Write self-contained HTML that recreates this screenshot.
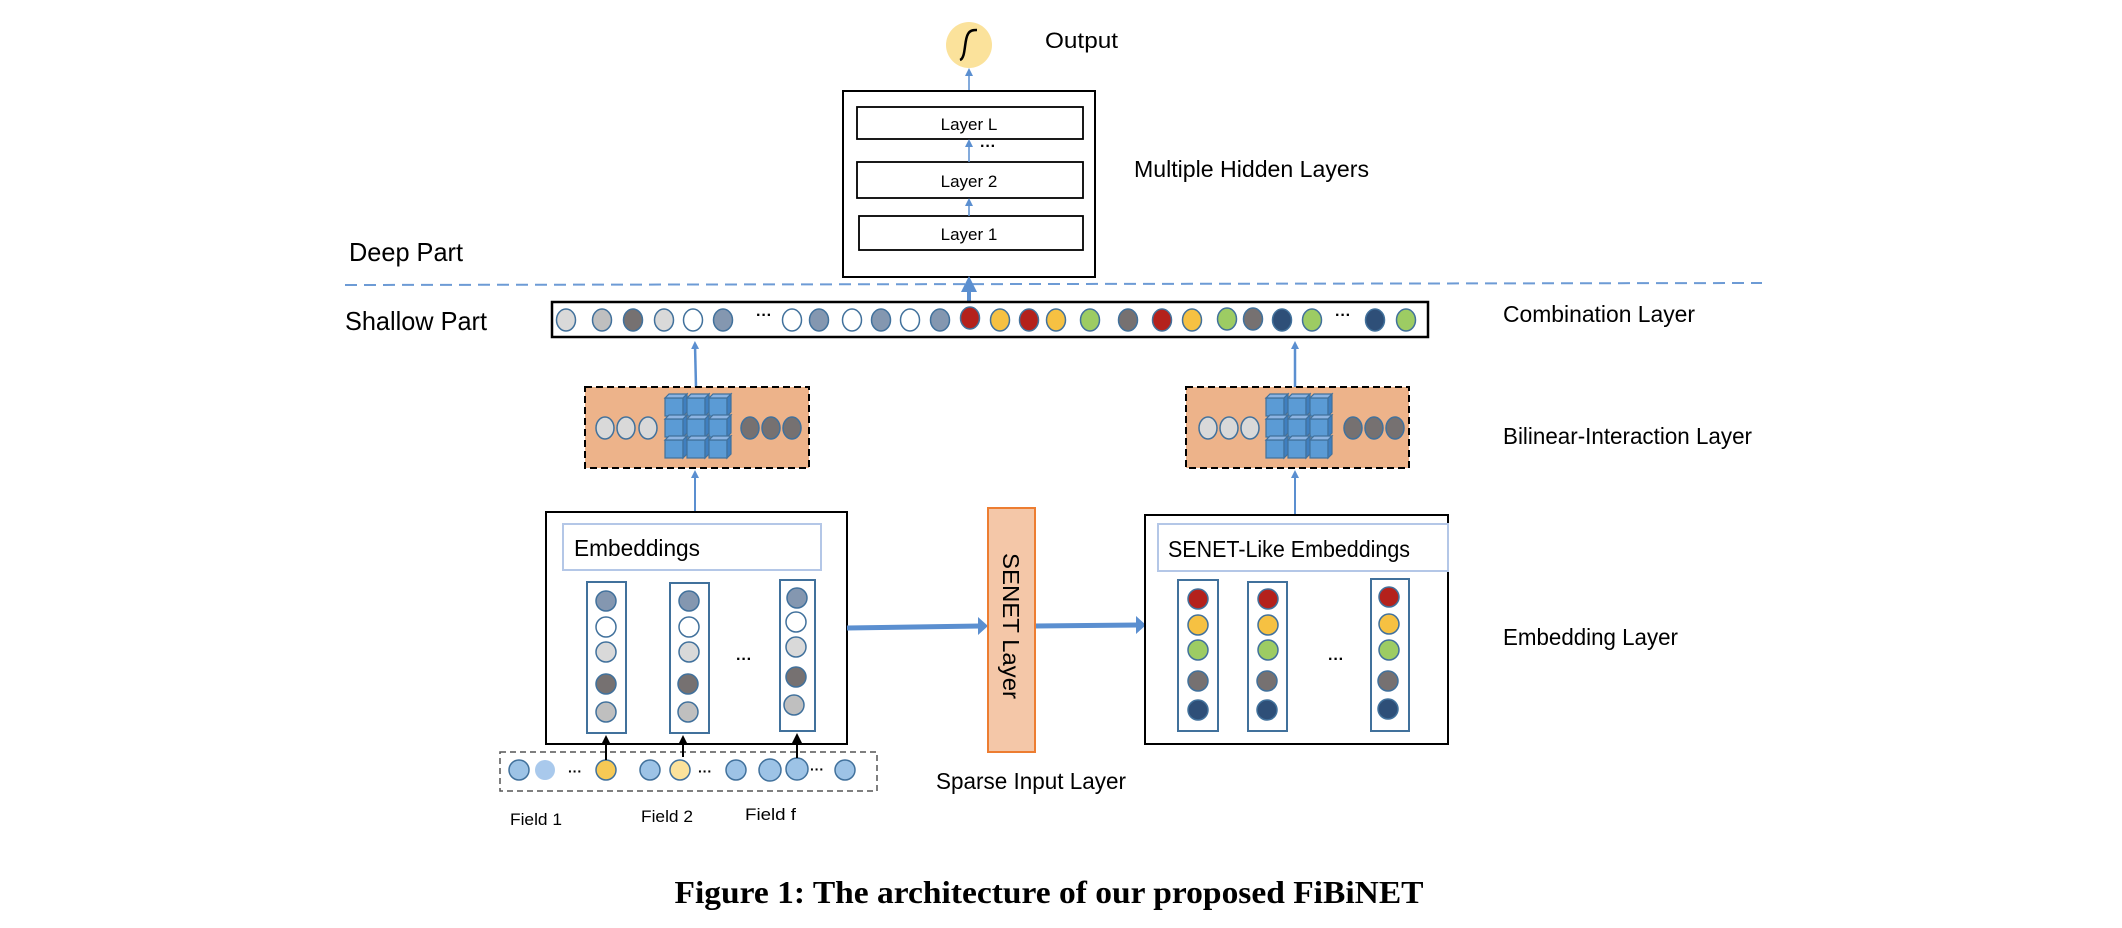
<!DOCTYPE html>
<html><head><meta charset="utf-8"><style>
html,body{margin:0;padding:0;background:#fff;}
svg{display:block;}
text{font-family:"Liberation Sans",sans-serif;fill:#000;}
</style></head><body>
<svg width="2122" height="928" viewBox="0 0 2122 928" xmlns="http://www.w3.org/2000/svg">
<defs>
<marker id="ab" markerWidth="8" markerHeight="8" refX="4" refY="4" orient="auto" markerUnits="userSpaceOnUse"><path d="M0,0 L8,4 L0,8 z" fill="#5b8fd0"/></marker>
<marker id="abig" markerWidth="16" markerHeight="16" refX="8" refY="8" orient="auto" markerUnits="userSpaceOnUse"><path d="M0,0 L16,8 L0,16 z" fill="#5b8fd0"/></marker>
<marker id="ak" markerWidth="10" markerHeight="10" refX="5" refY="5" orient="auto" markerUnits="userSpaceOnUse"><path d="M0,0 L10,5 L0,10 z" fill="#000"/></marker>
<g id="cube"><rect x="0" y="4" width="18" height="18" fill="#5b9bd5" stroke="#41719c" stroke-width="1.2"/><path d="M0,4 L4,0 L22,0 L18,4 z" fill="#8db4e2" stroke="#41719c" stroke-width="1.2"/><path d="M18,4 L22,0 L22,18 L18,22 z" fill="#3f7fc0" stroke="#41719c" stroke-width="1.2"/></g>
<g id="cubes"><use href="#cube" x="0" y="0"/><use href="#cube" x="22" y="0"/><use href="#cube" x="44" y="0"/><use href="#cube" x="0" y="21"/><use href="#cube" x="22" y="21"/><use href="#cube" x="44" y="21"/><use href="#cube" x="0" y="42"/><use href="#cube" x="22" y="42"/><use href="#cube" x="44" y="42"/></g>
</defs>

<circle cx="969" cy="45" r="23" fill="#fbe29b"/>
<path d="M960,60 C966,58 964,40 968,34 C970,30 974,30 977,30" stroke="#000" stroke-width="2.5" fill="none"/>
<text x="1045" y="48" font-size="22" textLength="73" lengthAdjust="spacingAndGlyphs">Output</text>
<line x1="969" y1="91" x2="969" y2="72" stroke="#5b8fd0" stroke-width="1.5" marker-end="url(#ab)"/>

<rect x="843" y="91" width="252" height="186" fill="#fff" stroke="#000" stroke-width="2"/>
<rect x="857" y="107" width="226" height="32" fill="#fff" stroke="#000" stroke-width="1.8"/>
<rect x="857" y="162" width="226" height="36" fill="#fff" stroke="#000" stroke-width="1.8"/>
<rect x="859" y="216" width="224" height="34" fill="#fff" stroke="#000" stroke-width="1.8"/>
<text x="969" y="130" font-size="17" text-anchor="middle">Layer L</text>
<text x="969" y="187" font-size="17" text-anchor="middle">Layer 2</text>
<text x="969" y="240" font-size="17" text-anchor="middle">Layer 1</text>
<text x="980" y="151" font-size="16" font-weight="bold">···</text>
<line x1="969" y1="162" x2="969" y2="143" stroke="#5b8fd0" stroke-width="1.5" marker-end="url(#ab)"/>
<line x1="969" y1="216" x2="969" y2="202" stroke="#5b8fd0" stroke-width="1.5" marker-end="url(#ab)"/>
<text x="1134" y="177" font-size="23" textLength="235" lengthAdjust="spacingAndGlyphs">Multiple Hidden Layers</text>

<text x="349" y="261" font-size="26" textLength="114" lengthAdjust="spacingAndGlyphs">Deep Part</text>
<line x1="345" y1="285" x2="1762" y2="283" stroke="#6d9bd5" stroke-width="2" stroke-dasharray="12,7"/>
<text x="345" y="330" font-size="26" textLength="142" lengthAdjust="spacingAndGlyphs">Shallow Part</text>

<line x1="969" y1="301" x2="969" y2="290" stroke="#5b8fd0" stroke-width="4"/>
<line x1="969" y1="292" x2="969" y2="284" stroke="#5b8fd0" stroke-width="4" marker-end="url(#abig)"/>

<rect x="552" y="302" width="876" height="35" fill="#fff" stroke="#000" stroke-width="2.5"/>
<g stroke="#41719c" stroke-width="1.5">
<ellipse cx="566" cy="320" rx="9.5" ry="11" fill="#d9d9d9"/>
<ellipse cx="602" cy="320" rx="9.5" ry="11" fill="#bfbfbf"/>
<ellipse cx="633" cy="320" rx="9.5" ry="11" fill="#767171"/>
<ellipse cx="664" cy="320" rx="9.5" ry="11" fill="#d9d9d9"/>
<ellipse cx="693" cy="320" rx="9.5" ry="11" fill="#fff"/>
<ellipse cx="723" cy="320" rx="9.5" ry="11" fill="#8497b0"/>
<ellipse cx="792" cy="320" rx="9.5" ry="11" fill="#fff"/>
<ellipse cx="819" cy="320" rx="9.5" ry="11" fill="#8497b0"/>
<ellipse cx="852" cy="320" rx="9.5" ry="11" fill="#fff"/>
<ellipse cx="881" cy="320" rx="9.5" ry="11" fill="#8497b0"/>
<ellipse cx="910" cy="320" rx="9.5" ry="11" fill="#fff"/>
<ellipse cx="940" cy="320" rx="9.5" ry="11" fill="#8497b0"/>
<ellipse cx="970" cy="318" rx="9.5" ry="11" fill="#b4211c"/>
<ellipse cx="1000" cy="320" rx="9.5" ry="11" fill="#f6c142"/>
<ellipse cx="1029" cy="320" rx="9.5" ry="11" fill="#b4211c"/>
<ellipse cx="1056" cy="320" rx="9.5" ry="11" fill="#f6c142"/>
<ellipse cx="1090" cy="320" rx="9.5" ry="11" fill="#9dcc63"/>
<ellipse cx="1128" cy="320" rx="9.5" ry="11" fill="#767171"/>
<ellipse cx="1162" cy="320" rx="9.5" ry="11" fill="#b4211c"/>
<ellipse cx="1192" cy="320" rx="9.5" ry="11" fill="#f6c142"/>
<ellipse cx="1227" cy="319" rx="9.5" ry="11" fill="#9dcc63"/>
<ellipse cx="1253" cy="319" rx="9.5" ry="11" fill="#767171"/>
<ellipse cx="1282" cy="320" rx="9.5" ry="11" fill="#2e4f78"/>
<ellipse cx="1312" cy="320" rx="9.5" ry="11" fill="#9dcc63"/>
<ellipse cx="1375" cy="320" rx="9.5" ry="11" fill="#2e4f78"/>
<ellipse cx="1406" cy="320" rx="9.5" ry="11" fill="#9dcc63"/>
</g>
<text x="756" y="320" font-size="16" font-weight="bold">···</text>
<text x="1335" y="320" font-size="16" font-weight="bold">···</text>
<text x="1503" y="322" font-size="23" textLength="192" lengthAdjust="spacingAndGlyphs">Combination Layer</text>

<line x1="696" y1="387" x2="695" y2="345" stroke="#5b8fd0" stroke-width="2.5" marker-end="url(#ab)"/>
<line x1="1295" y1="387" x2="1295" y2="345" stroke="#5b8fd0" stroke-width="2.5" marker-end="url(#ab)"/>

<rect x="585" y="387" width="224" height="81" fill="#edb38a" stroke="#000" stroke-width="2" stroke-dasharray="7,4"/>
<rect x="1186" y="387" width="223" height="81" fill="#edb38a" stroke="#000" stroke-width="2" stroke-dasharray="7,4"/>
<g stroke="#41719c" stroke-width="1.5">
<ellipse cx="605" cy="428" rx="9" ry="11" fill="#d9d9d9"/><ellipse cx="626" cy="428" rx="9" ry="11" fill="#d9d9d9"/><ellipse cx="648" cy="428" rx="9" ry="11" fill="#d9d9d9"/>
<ellipse cx="750" cy="428" rx="9" ry="11" fill="#767171"/><ellipse cx="771" cy="428" rx="9" ry="11" fill="#767171"/><ellipse cx="792" cy="428" rx="9" ry="11" fill="#767171"/>
<ellipse cx="1208" cy="428" rx="9" ry="11" fill="#d9d9d9"/><ellipse cx="1229" cy="428" rx="9" ry="11" fill="#d9d9d9"/><ellipse cx="1250" cy="428" rx="9" ry="11" fill="#d9d9d9"/>
<ellipse cx="1353" cy="428" rx="9" ry="11" fill="#767171"/><ellipse cx="1374" cy="428" rx="9" ry="11" fill="#767171"/><ellipse cx="1395" cy="428" rx="9" ry="11" fill="#767171"/>
</g>
<use href="#cubes" x="665" y="394"/>
<use href="#cubes" x="1266" y="394"/>
<text x="1503" y="444" font-size="23" textLength="249" lengthAdjust="spacingAndGlyphs">Bilinear-Interaction Layer</text>

<line x1="695" y1="511" x2="695" y2="474" stroke="#5b8fd0" stroke-width="2" marker-end="url(#ab)"/>
<line x1="1295" y1="514" x2="1295" y2="474" stroke="#5b8fd0" stroke-width="2" marker-end="url(#ab)"/>

<rect x="546" y="512" width="301" height="232" fill="#fff" stroke="#000" stroke-width="2"/>
<rect x="563" y="524" width="258" height="46" fill="#fff" stroke="#b4c7e7" stroke-width="2"/>
<text x="574" y="556" font-size="23" textLength="126" lengthAdjust="spacingAndGlyphs">Embeddings</text>
<g stroke="#41719c" stroke-width="2" fill="#fff">
<rect x="587" y="582" width="39" height="151"/><rect x="670" y="583" width="39" height="150"/><rect x="780" y="580" width="35" height="151"/>
</g>
<g stroke="#41719c" stroke-width="1.5">
<circle cx="606" cy="601" r="10" fill="#8497b0"/><circle cx="606" cy="627" r="10" fill="#fff"/><circle cx="606" cy="652" r="10" fill="#d9d9d9"/><circle cx="606" cy="684" r="10" fill="#767171"/><circle cx="606" cy="712" r="10" fill="#bfbfbf"/>
<circle cx="689" cy="601" r="10" fill="#8497b0"/><circle cx="689" cy="627" r="10" fill="#fff"/><circle cx="689" cy="652" r="10" fill="#d9d9d9"/><circle cx="688" cy="684" r="10" fill="#767171"/><circle cx="688" cy="712" r="10" fill="#bfbfbf"/>
<circle cx="797" cy="598" r="10" fill="#8497b0"/><circle cx="796" cy="622" r="10" fill="#fff"/><circle cx="796" cy="647" r="10" fill="#d9d9d9"/><circle cx="796" cy="677" r="10" fill="#767171"/><circle cx="794" cy="705" r="10" fill="#bfbfbf"/>
</g>
<text x="736" y="664" font-size="16" font-weight="bold">···</text>

<line x1="847" y1="628" x2="980" y2="626" stroke="#5b8fd0" stroke-width="5"/>
<path d="M978,617 L988,626 L978,635 z" fill="#5b8fd0"/>
<line x1="1035" y1="626" x2="1138" y2="625" stroke="#5b8fd0" stroke-width="5"/>
<path d="M1136,616 L1146,625 L1136,634 z" fill="#5b8fd0"/>

<rect x="988" y="508" width="47" height="244" fill="#f4c7a8" stroke="#ed7d31" stroke-width="2"/>
<text x="0" y="0" font-size="23" transform="translate(1003,553) rotate(90)" textLength="146" lengthAdjust="spacingAndGlyphs">SENET Layer</text>

<rect x="1145" y="515" width="303" height="229" fill="#fff" stroke="#000" stroke-width="2"/>
<rect x="1158" y="524" width="290" height="47" fill="#fff" stroke="#b4c7e7" stroke-width="2"/>
<text x="1168" y="557" font-size="23" textLength="242" lengthAdjust="spacingAndGlyphs">SENET-Like Embeddings</text>
<g stroke="#41719c" stroke-width="2" fill="#fff">
<rect x="1178" y="580" width="40" height="151"/><rect x="1248" y="582" width="39" height="149"/><rect x="1371" y="579" width="38" height="152"/>
</g>
<g stroke="#41719c" stroke-width="1.5">
<circle cx="1198" cy="599" r="10" fill="#b4211c"/><circle cx="1198" cy="625" r="10" fill="#f6c142"/><circle cx="1198" cy="650" r="10" fill="#9dcc63"/><circle cx="1198" cy="681" r="10" fill="#767171"/><circle cx="1198" cy="710" r="10" fill="#2e4f78"/>
<circle cx="1268" cy="599" r="10" fill="#b4211c"/><circle cx="1268" cy="625" r="10" fill="#f6c142"/><circle cx="1268" cy="650" r="10" fill="#9dcc63"/><circle cx="1267" cy="681" r="10" fill="#767171"/><circle cx="1267" cy="710" r="10" fill="#2e4f78"/>
<circle cx="1389" cy="597" r="10" fill="#b4211c"/><circle cx="1389" cy="624" r="10" fill="#f6c142"/><circle cx="1389" cy="650" r="10" fill="#9dcc63"/><circle cx="1388" cy="681" r="10" fill="#767171"/><circle cx="1388" cy="709" r="10" fill="#2e4f78"/>
</g>
<text x="1328" y="664" font-size="16" font-weight="bold">···</text>
<text x="1503" y="645" font-size="23" textLength="175" lengthAdjust="spacingAndGlyphs">Embedding Layer</text>

<rect x="500" y="752" width="377" height="39" fill="#fff" stroke="#555" stroke-width="1.5" stroke-dasharray="6,4"/>
<g stroke="#41719c" stroke-width="1.5">
<circle cx="519" cy="770" r="10" fill="#9dc3e6"/>
<circle cx="545" cy="770" r="10" fill="#a9c9ec" stroke="none"/>
<circle cx="606" cy="770" r="10" fill="#f6c955"/>
<circle cx="650" cy="770" r="10" fill="#9dc3e6"/>
<circle cx="680" cy="770" r="10" fill="#fbe29b"/>
<circle cx="736" cy="770" r="10" fill="#9dc3e6"/>
<circle cx="770" cy="770" r="11" fill="#9dc3e6"/>
<circle cx="797" cy="769" r="11" fill="#9dc3e6"/>
<circle cx="845" cy="770" r="10" fill="#9dc3e6"/>
</g>
<text x="568" y="776" font-size="14" font-weight="bold">···</text>
<text x="698" y="776" font-size="14" font-weight="bold">···</text>
<text x="810" y="774" font-size="14" font-weight="bold">···</text>
<line x1="606" y1="760" x2="606" y2="740" stroke="#000" stroke-width="2" marker-end="url(#ak)"/>
<line x1="683" y1="757" x2="683" y2="740" stroke="#000" stroke-width="2" marker-end="url(#ak)"/>
<line x1="797" y1="758" x2="797" y2="738" stroke="#000" stroke-width="2" marker-end="url(#ak)"/>
<text x="510" y="825" font-size="17" textLength="52" lengthAdjust="spacingAndGlyphs">Field 1</text>
<text x="641" y="822" font-size="17" textLength="52" lengthAdjust="spacingAndGlyphs">Field 2</text>
<text x="745" y="820" font-size="17" textLength="51" lengthAdjust="spacingAndGlyphs">Field f</text>
<text x="936" y="789" font-size="23" textLength="190" lengthAdjust="spacingAndGlyphs">Sparse Input Layer</text>

<text x="1049" y="903" font-size="32" font-weight="bold" text-anchor="middle" style="font-family:'Liberation Serif',serif" textLength="749" lengthAdjust="spacingAndGlyphs">Figure 1: The architecture of our proposed FiBiNET</text>
</svg>
</body></html>
